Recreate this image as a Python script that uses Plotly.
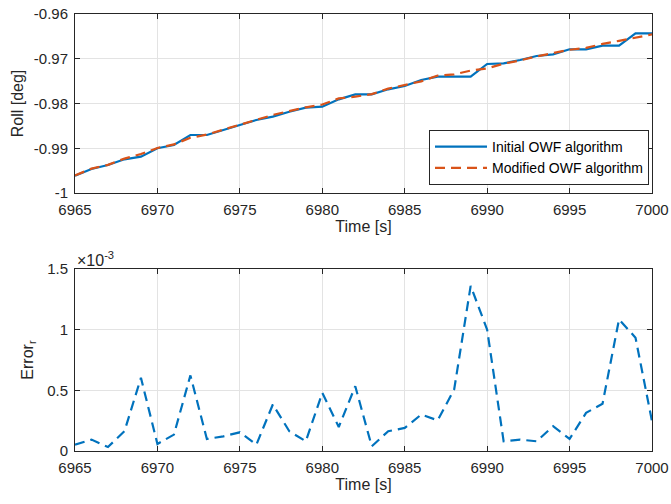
import plotly.graph_objects as go

time_s = list(range(6965, 7001))

roll_initial = [
    -0.99613, -0.99464, -0.99374, -0.99247, -0.99189, -0.99001, -0.98927, -0.98704,
    -0.98704, -0.98592, -0.98480, -0.98369, -0.98294, -0.98183, -0.98093, -0.98071,
    -0.97907, -0.97795, -0.97795, -0.97683, -0.97609, -0.97475, -0.97401, -0.97401,
    -0.97401, -0.97117, -0.97102, -0.97028, -0.96939, -0.96901, -0.96789, -0.96789,
    -0.96708, -0.96708, -0.96432, -0.96432,
]

roll_modified = [
    -0.99608, -0.99455, -0.99371, -0.99231, -0.99129, -0.98995, -0.98914, -0.98766,
    -0.98694, -0.98580, -0.98465, -0.98364, -0.98256, -0.98167, -0.98085, -0.98023,
    -0.97887, -0.97848, -0.97791, -0.97667, -0.97590, -0.97505, -0.97376, -0.97350,
    -0.97265, -0.97217, -0.97110, -0.97037, -0.96947, -0.96880, -0.96799, -0.96758,
    -0.96669, -0.96600, -0.96525, -0.96457,
]

error_r = [
    0.052e-3, 0.094e-3, 0.033e-3, 0.163e-3, 0.603e-3, 0.058e-3, 0.135e-3, 0.623e-3,
    0.099e-3, 0.121e-3, 0.154e-3, 0.052e-3, 0.383e-3, 0.163e-3, 0.080e-3, 0.479e-3,
    0.198e-3, 0.534e-3, 0.039e-3, 0.163e-3, 0.190e-3, 0.300e-3, 0.253e-3, 0.507e-3,
    1.361e-3, 1.000e-3, 0.080e-3, 0.094e-3, 0.080e-3, 0.204e-3, 0.099e-3, 0.314e-3,
    0.390e-3, 1.085e-3, 0.934e-3, 0.245e-3,
]

x_ticks = [6965, 6970, 6975, 6980, 6985, 6990, 6995, 7000]
roll_ticks = [-1, -0.99, -0.98, -0.97, -0.96]
roll_labels = ["-1", "-0.99", "-0.98", "-0.97", "-0.96"]
err_ticks = [0, 0.5e-3, 1e-3, 1.5e-3]
err_labels = ["0", "0.5", "1", "1.5"]

W, H = 671, 504
L, R, T, B = 75, 19, 14, 53
ph = H - T - B
blue = "#0072BD"
orange = "#D95319"
ink = "#262626"
grid = "#e3e3e3"
font = "Liberation Sans, Arial, sans-serif"
dash = "10px,6px"

fig = go.Figure()
fig.add_trace(go.Scatter(x=time_s, y=roll_initial, mode="lines", name="Initial OWF algorithm",
                         line=dict(color=blue, width=2.2), xaxis="x", yaxis="y"))
fig.add_trace(go.Scatter(x=time_s, y=roll_modified, mode="lines", name="Modified OWF algorithm",
                         line=dict(color=orange, width=2.2, dash=dash), xaxis="x", yaxis="y"))
fig.add_trace(go.Scatter(x=time_s, y=error_r, mode="lines", showlegend=False,
                         line=dict(color=blue, width=2.2, dash=dash), xaxis="x2", yaxis="y2"))

axis_common = dict(showline=True, linecolor=ink, linewidth=1, mirror="ticks",
                   ticks="inside", ticklen=5, tickcolor=ink, showgrid=True,
                   gridcolor=grid, gridwidth=1, zeroline=False, automargin=False,
                   tickfont=dict(size=15, color=ink, family=font))
title_font = dict(size=16, color=ink, family=font)

top_dom = [1 - (193 - T) / ph, 1]
bot_dom = [0, 1 - (269 - T) / ph]

fig.update_layout(
    width=W, height=H,
    margin=dict(l=L, r=R, t=T, b=B),
    paper_bgcolor="white", plot_bgcolor="white",
    font=dict(family=font, color=ink, size=15),
    xaxis=dict(domain=[0, 1], range=[6965, 7000], tickvals=x_ticks, anchor="y",
               ticklabelstandoff=3,
               title=dict(text="Time [s]", font=title_font, standoff=2), **axis_common),
    yaxis=dict(domain=top_dom, range=[-1, -0.96], tickvals=roll_ticks,
               ticktext=roll_labels, anchor="x", ticklabelstandoff=3,
               title=dict(text="Roll [deg]", font=title_font, standoff=6), **axis_common),
    xaxis2=dict(domain=[0, 1], range=[6965, 7000], tickvals=x_ticks, anchor="y2",
                ticklabelstandoff=3,
                title=dict(text="Time [s]", font=title_font, standoff=2), **axis_common),
    yaxis2=dict(domain=bot_dom, range=[0, 1.5e-3], tickvals=err_ticks,
                ticktext=err_labels, anchor="x2", ticklabelstandoff=3,
                title=dict(text="Error<sub>r</sub>", font=title_font, standoff=9), **axis_common),
    legend=dict(x=1 - 3 / (W - L - R), y=1 - (130 - T) / ph, xanchor="right", yanchor="top",
                bgcolor="white", bordercolor=ink, borderwidth=1,
                font=dict(size=14, color="black", family=font),
                tracegroupgap=0, itemwidth=52),
    annotations=[dict(text="×10<sup>-3</sup>", xref="paper", yref="paper",
                      x=0, y=bot_dom[1], xanchor="left", yanchor="bottom", yshift=-2,
                      showarrow=False, font=dict(size=16, color=ink, family=font))],
)

fig.write_html("out.html", config={"displayModeBar": False},
               post_script="document.body.style.margin='0';")
